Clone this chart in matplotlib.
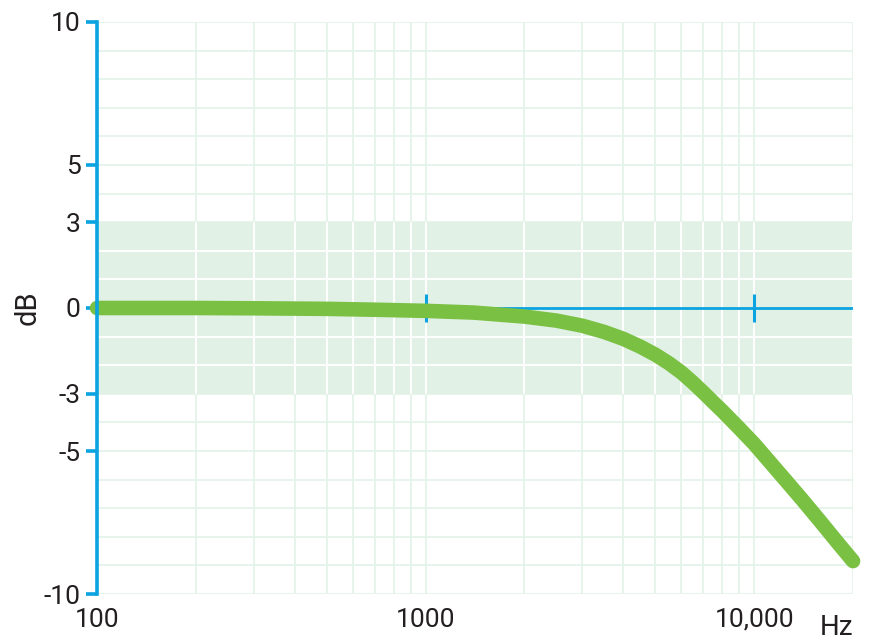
import matplotlib
matplotlib.use("Agg")
import matplotlib.pyplot as plt

plt.rcParams['font.family'] = ['Roboto', 'DejaVu Sans']

# frequency response
freq_hz = [100, 200, 300, 500, 700, 1000, 1400, 2000, 2500, 3000, 3500, 4000,
           4500, 5000, 5500, 6000, 6500, 7000, 7500, 8000, 9000, 10000, 11000,
           12500, 14000, 16000, 18000, 20000]
gain_db = [0.0, 0.0, -0.01, -0.03, -0.06, -0.1, -0.16, -0.3, -0.44, -0.62,
           -0.84, -1.08, -1.35, -1.63, -1.93, -2.25, -2.6, -2.95, -3.29, -3.6,
           -4.2, -4.75, -5.3, -6.04, -6.7, -7.5, -8.22, -8.85]

y_ticks = [10, 5, 3, 0, -3, -5, -10]
y_tick_labels = ["10", "5", "3", "0", "-3", "-5", "-10"]
x_ticks = [100, 1000, 10000]
x_tick_labels = ["100", "1000", "10,000"]
band = (-3, 3)

blue = "#0ba3e0"
green = "#7ac143"
band_col = "#e2f1e6"
grid_col = "#e4f3ea"
text_col = "#231f20"

fig = plt.figure(figsize=(8.75, 6.43), dpi=100)
ax = fig.add_axes([0.1109, 0.0762, 0.864, 0.8896])
ax.set_xscale("log")
ax.set_xlim(100, 20000)
ax.set_ylim(-10, 10)

# grid: light green outside the band, white inside it
minor_x = [m * 10 ** e for e in (2, 3, 4) for m in range(1, 10) if m * 10 ** e <= 20000][1:]
ax.vlines(minor_x, -10, 10, color=grid_col, lw=1.3, zorder=1)
ax.hlines([v for v in range(-10, 11) if abs(v) >= 3], 100, 20000,
          color=grid_col, lw=1.3, zorder=1)
ax.axhspan(band[0], band[1], color=band_col, lw=0, zorder=2)
ax.vlines(minor_x, band[0], band[1], color="white", lw=1.3, zorder=3)
ax.hlines([-2, -1, 1, 2], 100, 20000, color="white", lw=1.3, zorder=3)

# zero line with decade marks
ax.axhline(0, color=blue, lw=2, zorder=4)
ax.vlines([1000, 10000], -0.5, 0.5, color=blue, lw=2.2, zorder=4)

ax.plot(freq_hz, gain_db, color=green, lw=10.5, solid_capstyle="round",
        solid_joinstyle="round", zorder=5, clip_on=False)

for s in ["top", "right", "bottom"]:
    ax.spines[s].set_visible(False)
ax.spines["left"].set_color(blue)
ax.spines["left"].set_linewidth(2.6)
ax.spines["left"].set_zorder(6)

ax.set_yticks(y_ticks)
ax.set_yticklabels(y_tick_labels)
ax.tick_params(axis="y", colors=blue, length=8, width=2.6, labelsize=19,
               labelcolor=text_col, pad=4)
ax.set_xticks(x_ticks)
ax.set_xticklabels(x_tick_labels)
ax.xaxis.set_minor_locator(matplotlib.ticker.NullLocator())
ax.tick_params(axis="x", length=0, labelsize=19, labelcolor=text_col, pad=10)

ax.set_ylabel("dB", fontsize=21, color=text_col, labelpad=1)
ax.text(1.0, -0.035, "Hz", transform=ax.transAxes, ha="right", va="top",
        fontsize=20, color=text_col)

fig.savefig("out.png", dpi=100)
